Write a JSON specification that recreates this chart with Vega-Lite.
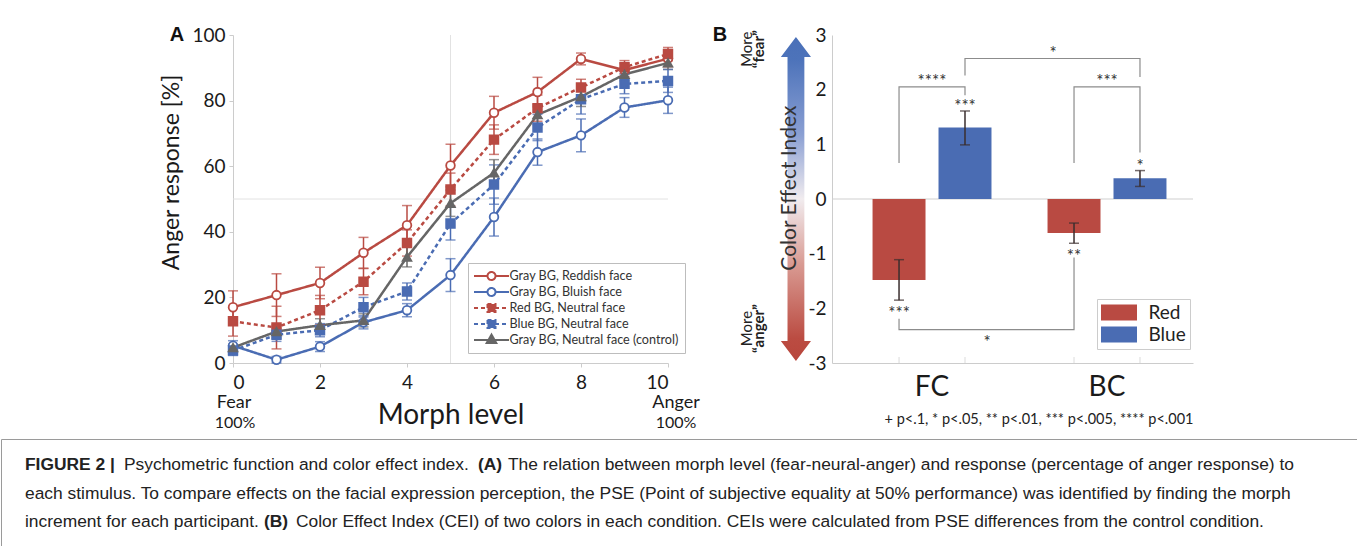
{
  "$schema": "https://vega.github.io/schema/vega-lite/v6.json",
  "background": "white",
  "padding": {"left": 0, "top": 25, "right": 0, "bottom": 0},
  "bounds": "full",
  "spacing": 6,
  "datasets": {
    "psy": [
      {"series": "Gray BG, Reddish face", "morph": 0, "value": 17.0, "lo": 12.0, "hi": 22.0},
      {"series": "Gray BG, Reddish face", "morph": 1, "value": 20.7, "lo": 14.2, "hi": 27.2},
      {"series": "Gray BG, Reddish face", "morph": 2, "value": 24.4, "lo": 19.6, "hi": 29.2},
      {"series": "Gray BG, Reddish face", "morph": 3, "value": 33.6, "lo": 28.9, "hi": 38.3},
      {"series": "Gray BG, Reddish face", "morph": 4, "value": 42.0, "lo": 36.0, "hi": 48.0},
      {"series": "Gray BG, Reddish face", "morph": 5, "value": 60.2, "lo": 53.7, "hi": 66.7},
      {"series": "Gray BG, Reddish face", "morph": 6, "value": 76.3, "lo": 71.3, "hi": 81.3},
      {"series": "Gray BG, Reddish face", "morph": 7, "value": 82.6, "lo": 78.1, "hi": 87.1},
      {"series": "Gray BG, Reddish face", "morph": 8, "value": 92.7, "lo": 90.9, "hi": 94.5},
      {"series": "Gray BG, Reddish face", "morph": 9, "value": 89.3, "lo": 87.3, "hi": 91.3},
      {"series": "Gray BG, Reddish face", "morph": 10, "value": 92.8, "lo": 90.3, "hi": 95.3},
      {"series": "Gray BG, Bluish face", "morph": 0, "value": 5.3, "lo": 3.8, "hi": 6.8},
      {"series": "Gray BG, Bluish face", "morph": 1, "value": 1.0, "lo": 0.0, "hi": 2.0},
      {"series": "Gray BG, Bluish face", "morph": 2, "value": 5.0, "lo": 3.5, "hi": 6.5},
      {"series": "Gray BG, Bluish face", "morph": 3, "value": 12.4, "lo": 10.4, "hi": 14.4},
      {"series": "Gray BG, Bluish face", "morph": 4, "value": 16.1, "lo": 14.1, "hi": 18.1},
      {"series": "Gray BG, Bluish face", "morph": 5, "value": 26.8, "lo": 21.8, "hi": 31.8},
      {"series": "Gray BG, Bluish face", "morph": 6, "value": 44.5, "lo": 38.7, "hi": 50.3},
      {"series": "Gray BG, Bluish face", "morph": 7, "value": 64.3, "lo": 60.3, "hi": 68.3},
      {"series": "Gray BG, Bluish face", "morph": 8, "value": 69.4, "lo": 64.4, "hi": 74.4},
      {"series": "Gray BG, Bluish face", "morph": 9, "value": 77.9, "lo": 74.9, "hi": 80.9},
      {"series": "Gray BG, Bluish face", "morph": 10, "value": 80.1, "lo": 76.1, "hi": 84.1},
      {"series": "Red BG, Neutral face", "morph": 0, "value": 12.7, "lo": 8.2, "hi": 17.2},
      {"series": "Red BG, Neutral face", "morph": 1, "value": 10.8, "lo": 4.3, "hi": 17.3},
      {"series": "Red BG, Neutral face", "morph": 2, "value": 16.1, "lo": 11.6, "hi": 20.6},
      {"series": "Red BG, Neutral face", "morph": 3, "value": 24.8, "lo": 20.8, "hi": 28.8},
      {"series": "Red BG, Neutral face", "morph": 4, "value": 36.6, "lo": 32.6, "hi": 40.6},
      {"series": "Red BG, Neutral face", "morph": 5, "value": 52.9, "lo": 47.9, "hi": 57.9},
      {"series": "Red BG, Neutral face", "morph": 6, "value": 68.1, "lo": 63.6, "hi": 72.6},
      {"series": "Red BG, Neutral face", "morph": 7, "value": 77.7, "lo": 73.7, "hi": 81.7},
      {"series": "Red BG, Neutral face", "morph": 8, "value": 84.0, "lo": 81.5, "hi": 86.5},
      {"series": "Red BG, Neutral face", "morph": 9, "value": 90.2, "lo": 88.2, "hi": 92.2},
      {"series": "Red BG, Neutral face", "morph": 10, "value": 94.2, "lo": 92.2, "hi": 96.2},
      {"series": "Blue BG, Neutral face", "morph": 0, "value": 3.8, "lo": 2.3, "hi": 5.3},
      {"series": "Blue BG, Neutral face", "morph": 1, "value": 8.6, "lo": 6.6, "hi": 10.6},
      {"series": "Blue BG, Neutral face", "morph": 2, "value": 10.0, "lo": 8.0, "hi": 12.0},
      {"series": "Blue BG, Neutral face", "morph": 3, "value": 17.0, "lo": 14.0, "hi": 20.0},
      {"series": "Blue BG, Neutral face", "morph": 4, "value": 21.8, "lo": 19.2, "hi": 24.4},
      {"series": "Blue BG, Neutral face", "morph": 5, "value": 42.5, "lo": 37.5, "hi": 47.5},
      {"series": "Blue BG, Neutral face", "morph": 6, "value": 54.4, "lo": 48.4, "hi": 60.4},
      {"series": "Blue BG, Neutral face", "morph": 7, "value": 71.8, "lo": 67.8, "hi": 75.8},
      {"series": "Blue BG, Neutral face", "morph": 8, "value": 80.4, "lo": 75.9, "hi": 84.9},
      {"series": "Blue BG, Neutral face", "morph": 9, "value": 85.1, "lo": 82.1, "hi": 88.1},
      {"series": "Blue BG, Neutral face", "morph": 10, "value": 86.0, "lo": 82.5, "hi": 89.5},
      {"series": "Gray BG, Neutral face (control)", "morph": 0, "value": 4.7, "lo": 3.7, "hi": 5.7},
      {"series": "Gray BG, Neutral face (control)", "morph": 1, "value": 9.6, "lo": 7.6, "hi": 11.6},
      {"series": "Gray BG, Neutral face (control)", "morph": 2, "value": 11.5, "lo": 9.5, "hi": 13.5},
      {"series": "Gray BG, Neutral face (control)", "morph": 3, "value": 13.0, "lo": 11.0, "hi": 15.0},
      {"series": "Gray BG, Neutral face (control)", "morph": 4, "value": 32.3, "lo": 29.3, "hi": 35.3},
      {"series": "Gray BG, Neutral face (control)", "morph": 5, "value": 48.7, "lo": 44.7, "hi": 52.7},
      {"series": "Gray BG, Neutral face (control)", "morph": 6, "value": 58.0, "lo": 54.0, "hi": 62.0},
      {"series": "Gray BG, Neutral face (control)", "morph": 7, "value": 75.7, "lo": 72.7, "hi": 78.7},
      {"series": "Gray BG, Neutral face (control)", "morph": 8, "value": 81.2, "lo": 78.2, "hi": 84.2},
      {"series": "Gray BG, Neutral face (control)", "morph": 9, "value": 88.0, "lo": 86.0, "hi": 90.0},
      {"series": "Gray BG, Neutral face (control)", "morph": 10, "value": 91.5, "lo": 89.5, "hi": 93.5}
    ],
    "ends": [
      {"morph": 0, "word": "Fear", "pct": "100%"},
      {"morph": 10, "word": "Anger", "pct": "100%"}
    ],
    "cei": [
      {"group": "FC", "color": "Red", "cei": -1.48, "lo": -1.85, "hi": -1.11, "sig": "***"},
      {"group": "FC", "color": "Blue", "cei": 1.31, "lo": 0.99, "hi": 1.61, "sig": "***"},
      {"group": "BC", "color": "Red", "cei": -0.62, "lo": -0.81, "hi": -0.44, "sig": "**"},
      {"group": "BC", "color": "Blue", "cei": 0.38, "lo": 0.23, "hi": 0.52, "sig": "*"}
    ],
    "brackets": [
      {"id": "fc", "k": 1, "group": "FC", "color": "Red", "y": 0.66},
      {"id": "fc", "k": 2, "group": "FC", "color": "Red", "y": 2.05},
      {"id": "fc", "k": 3, "group": "FC", "color": "Blue", "y": 2.05},
      {"id": "fc", "k": 4, "group": "FC", "color": "Blue", "y": 1.9},
      {"id": "bc", "k": 1, "group": "BC", "color": "Red", "y": 0.66},
      {"id": "bc", "k": 2, "group": "BC", "color": "Red", "y": 2.05},
      {"id": "bc", "k": 3, "group": "BC", "color": "Blue", "y": 2.05},
      {"id": "bc", "k": 4, "group": "BC", "color": "Blue", "y": 0.85},
      {"id": "blue", "k": 1, "group": "FC", "color": "Blue", "y": 2.26},
      {"id": "blue", "k": 2, "group": "FC", "color": "Blue", "y": 2.57},
      {"id": "blue", "k": 3, "group": "BC", "color": "Blue", "y": 2.57},
      {"id": "blue", "k": 4, "group": "BC", "color": "Blue", "y": 2.23},
      {"id": "red", "k": 1, "group": "FC", "color": "Red", "y": -2.19},
      {"id": "red", "k": 2, "group": "FC", "color": "Red", "y": -2.39},
      {"id": "red", "k": 3, "group": "BC", "color": "Red", "y": -2.39},
      {"id": "red", "k": 4, "group": "BC", "color": "Red", "y": -1.07}
    ],
    "bracketLabels": [
      {"pos": "center", "text": "****", "group": "FC", "color": "Red", "y": 2.05},
      {"pos": "center", "text": "***", "group": "BC", "color": "Red", "y": 2.05},
      {"pos": "top", "text": "*", "group": "FC", "color": "Blue", "y": 2.57},
      {"pos": "bottom", "text": "*", "group": "FC", "color": "Red", "y": -2.39}
    ],
    "notes": [
      {"group": "BC", "text": "+ p<.1, * p<.05, ** p<.01, *** p<.005, **** p<.001"}
    ],
    "caption": [
      {"line": 1, "seg": "fig", "text": "FIGURE 2 |"},
      {"line": 1, "seg": "n1", "text": "Psychometric function and color effect index."},
      {"line": 1, "seg": "bA", "text": "(A)"},
      {"line": 1, "seg": "n2", "text": "The relation between morph level (fear-neural-anger) and response (percentage of anger response) to"},
      {"line": 2, "seg": "n0", "text": "each stimulus. To compare effects on the facial expression perception, the PSE (Point of subjective equality at 50% performance) was identified by finding the morph"},
      {"line": 3, "seg": "n0", "text": "increment for each participant."},
      {"line": 3, "seg": "bB", "text": "(B)"},
      {"line": 3, "seg": "n3", "text": "Color Effect Index (CEI) of two colors in each condition. CEIs were calculated from PSE differences from the control condition."}
    ]
  },
  "vconcat": [
    {
      "bounds": "flush",
      "spacing": 10,
      "resolve": {"scale": {"x": "independent", "y": "independent", "color": "independent", "fill": "independent", "stroke": "independent", "shape": "independent", "strokeDash": "independent"}},
      "hconcat": [
        {
          "width": 222,
          "height": 328,
          "data": {"values": [{"panel": "A"}]},
          "mark": {"type": "text", "font": "Liberation Sans", "fontSize": 20, "fontWeight": "bold", "baseline": "middle", "align": "center", "color": "#111111"},
          "encoding": {
            "x": {"datum": 0.793, "type": "quantitative", "scale": {"domain": [0, 1]}, "axis": null},
            "y": {"datum": 1, "type": "quantitative", "scale": {"domain": [0, 1]}, "axis": null},
            "text": {"field": "panel"}
          }
        },
        {
          "width": 435,
          "height": 328,
          "data": {"name": "psy"},
          "resolve": {"scale": {"shape": "independent", "fill": "independent", "stroke": "independent", "strokeDash": "independent"}},
          "layer": [
            {
              "transform": [{"filter": "datum.morph == 0 && datum.series == 'Gray BG, Reddish face'"}],
              "mark": {"type": "rule", "color": "#e2e2e2", "strokeWidth": 1},
              "encoding": {"x": {"datum": 5, "type": "quantitative", "title": "Morph level"}}
            },
            {
              "transform": [{"filter": "datum.morph == 0 && datum.series == 'Gray BG, Reddish face'"}],
              "mark": {"type": "rule", "color": "#e2e2e2", "strokeWidth": 1},
              "encoding": {"y": {"datum": 50, "type": "quantitative", "title": "Anger response [%]"}}
            },
            {
              "mark": {"type": "line", "strokeWidth": 2.5},
              "encoding": {
                "x": {"field": "morph", "type": "quantitative", "scale": {"domain": [0, 10], "nice": false}, "title": "Morph level",
                  "axis": {"values": [0, 2, 4, 6, 8, 10], "titleFontSize": 28, "titleY": 52, "titleBaseline": "middle",
                    "labelFontSize": 19, "labelPadding": 6, "tickSize": 4}},
                "y": {"field": "value", "type": "quantitative", "scale": {"domain": [0, 100], "nice": false}, "title": "Anger response [%]",
                  "axis": {"values": [0, 20, 40, 60, 80, 100], "titleFontSize": 23, "titleX": -62, "titleY": 137,
                    "titleAngle": 270, "titleBaseline": "middle", "titleAlign": "center", "labelFontSize": 19, "labelPadding": 4, "tickSize": 4}},
                "stroke": {"field": "series", "type": "nominal",
                  "scale": {"domain": ["Gray BG, Reddish face", "Gray BG, Bluish face", "Red BG, Neutral face", "Blue BG, Neutral face", "Gray BG, Neutral face (control)"],
                    "range": ["#b94a42", "#4a6cb3", "#b94a42", "#4a6cb3", "#666666"]}, "legend": null},
                "strokeDash": {"field": "series", "type": "nominal",
                  "scale": {"domain": ["Gray BG, Reddish face", "Gray BG, Bluish face", "Red BG, Neutral face", "Blue BG, Neutral face", "Gray BG, Neutral face (control)"],
                    "range": [[1, 0], [1, 0], [4, 3], [4, 3], [1, 0]]}, "legend": null}
              }
            },
            {
              "mark": {"type": "errorbar", "ticks": {"size": 10}, "thickness": 1.5},
              "encoding": {
                "x": {"field": "morph", "type": "quantitative", "title": "Morph level"},
                "y": {"field": "lo", "type": "quantitative", "title": "Anger response [%]"},
                "y2": {"field": "hi"},
                "color": {"field": "series", "type": "nominal",
                  "scale": {"domain": ["Gray BG, Reddish face", "Gray BG, Bluish face", "Red BG, Neutral face", "Blue BG, Neutral face", "Gray BG, Neutral face (control)"],
                    "range": ["#b94a42", "#4a6cb3", "#b94a42", "#4a6cb3", "#666666"]}, "legend": null}
              }
            },
            {
              "mark": {"type": "point", "filled": false, "opacity": 1, "strokeWidth": 1.8, "size": 75},
              "encoding": {
                "x": {"field": "morph", "type": "quantitative", "title": "Morph level"},
                "y": {"field": "value", "type": "quantitative", "title": "Anger response [%]"},
                "color": {"field": "series", "type": "nominal", "legend": null},
                "shape": {"field": "series", "type": "nominal",
                  "scale": {"domain": ["Gray BG, Reddish face", "Gray BG, Bluish face", "Red BG, Neutral face", "Blue BG, Neutral face", "Gray BG, Neutral face (control)"],
                    "range": ["circle", "circle", "square", "square", "triangle-up"]}, "legend": null},
                "fill": {"field": "series", "type": "nominal",
                  "scale": {"domain": ["Gray BG, Reddish face", "Gray BG, Bluish face", "Red BG, Neutral face", "Blue BG, Neutral face", "Gray BG, Neutral face (control)"],
                    "range": ["#ffffff", "#ffffff", "#b94a42", "#4a6cb3", "#666666"]}, "legend": null}
              }
            },
            {
              "data": {"name": "ends"},
              "transform": [{"filter": "datum.morph == 0"}],
              "mark": {"type": "text", "fontSize": 18, "color": "#1a1a1a", "baseline": "middle", "align": "center", "dx": 1},
              "encoding": {
                "x": {"field": "morph", "type": "quantitative", "title": "Morph level"},
                "y": {"datum": -12.2, "type": "quantitative", "title": "Anger response [%]"},
                "text": {"field": "word"}
              }
            },
            {
              "data": {"name": "ends"},
              "transform": [{"filter": "datum.morph == 10"}],
              "mark": {"type": "text", "fontSize": 18, "color": "#1a1a1a", "baseline": "middle", "align": "center", "dx": 8},
              "encoding": {
                "x": {"field": "morph", "type": "quantitative", "title": "Morph level"},
                "y": {"datum": -12.2, "type": "quantitative", "title": "Anger response [%]"},
                "text": {"field": "word"}
              }
            },
            {
              "data": {"name": "ends"},
              "transform": [{"filter": "datum.morph == 0"}],
              "mark": {"type": "text", "fontSize": 16, "color": "#1a1a1a", "baseline": "middle", "align": "center", "dx": 2},
              "encoding": {
                "x": {"field": "morph", "type": "quantitative", "title": "Morph level"},
                "y": {"datum": -18.4, "type": "quantitative", "title": "Anger response [%]"},
                "text": {"field": "pct"}
              }
            },
            {
              "data": {"name": "ends"},
              "transform": [{"filter": "datum.morph == 10"}],
              "mark": {"type": "text", "fontSize": 16, "color": "#1a1a1a", "baseline": "middle", "align": "center", "dx": 8},
              "encoding": {
                "x": {"field": "morph", "type": "quantitative", "title": "Morph level"},
                "y": {"datum": -18.4, "type": "quantitative", "title": "Anger response [%]"},
                "text": {"field": "pct"}
              }
            },
            {
              "transform": [{"filter": "false"}],
              "mark": {"type": "point", "filled": true, "opacity": 1, "strokeWidth": 2, "size": 144},
              "encoding": {
                "shape": {"field": "series", "type": "nominal",
                  "scale": {"domain": ["Gray BG, Reddish face", "Gray BG, Bluish face", "Red BG, Neutral face", "Blue BG, Neutral face", "Gray BG, Neutral face (control)"],
                    "range": [
                      "M-2.917,0L-0.667,0M0.667,0L2.917,0M0.667,0A0.667,0.667,0,1,1,-0.667,0A0.667,0.667,0,1,1,0.667,0Z",
                      "M-2.917,0L-0.667,0M0.667,0L2.917,0M0.667,0A0.667,0.667,0,1,1,-0.667,0A0.667,0.667,0,1,1,0.667,0Z",
                      "M-2.917,0L2.917,0M-0.667,-0.667L0.667,-0.667L0.667,0.667L-0.667,0.667Z",
                      "M-2.917,0L2.917,0M-0.667,-0.667L0.667,-0.667L0.667,0.667L-0.667,0.667Z",
                      "M-2.917,0L2.917,0M0,-0.9L0.8,0.5L-0.8,0.5Z"]},
                  "legend": {"title": null, "orient": "none", "legendX": 235, "legendY": 228, "labelFontSize": 12.6, "labelColor": "#333333", "labelLimit": 400,
                    "symbolSize": 144, "symbolStrokeWidth": 2, "symbolOffset": 10.5, "labelOffset": 11, "rowPadding": -3,
                    "strokeColor": "#bdbdbd", "fillColor": "#ffffff", "padding": 6}},
                "fill": {"field": "series", "type": "nominal",
                  "scale": {"domain": ["Gray BG, Reddish face", "Gray BG, Bluish face", "Red BG, Neutral face", "Blue BG, Neutral face", "Gray BG, Neutral face (control)"],
                    "range": ["#ffffff", "#ffffff", "#b94a42", "#4a6cb3", "#666666"]}},
                "stroke": {"field": "series", "type": "nominal",
                  "scale": {"domain": ["Gray BG, Reddish face", "Gray BG, Bluish face", "Red BG, Neutral face", "Blue BG, Neutral face", "Gray BG, Neutral face (control)"],
                    "range": ["#b94a42", "#4a6cb3", "#b94a42", "#4a6cb3", "#666666"]}},
                "strokeDash": {"field": "series", "type": "nominal",
                  "scale": {"domain": ["Gray BG, Reddish face", "Gray BG, Bluish face", "Red BG, Neutral face", "Blue BG, Neutral face", "Gray BG, Neutral face (control)"],
                    "range": [[1, 0], [1, 0], [4, 3], [4, 3], [1, 0]]}}
              }
            }
          ]
        },
        {
          "width": 144,
          "height": 328,
          "data": {"values": [{"label": "Color Effect Index", "more": "More", "fear": "“fear”", "anger": "“anger”", "panel": "B"}]},
          "encoding": {
            "x": {"type": "quantitative", "scale": {"domain": [0, 1]}, "axis": null},
            "y": {"type": "quantitative", "scale": {"domain": [-3, 3]}, "axis": null}
          },
          "layer": [
            {
              "mark": {"type": "point", "shape": "M0,-1L0.093,-0.877L0.052,-0.877L0.052,0.877L0.093,0.877L0,1L-0.093,0.877L-0.052,0.877L-0.052,-0.877L-0.093,-0.877Z",
                "size": 104976, "filled": true, "opacity": 1, "strokeWidth": 0,
                "fill": {"gradient": "linear", "x1": 0, "y1": 0, "x2": 0, "y2": 1, "stops": [
                  {"offset": 0, "color": "#4a70b8"}, {"offset": 0.07, "color": "#4d73ba"}, {"offset": 0.3, "color": "#8a9fd3"},
                  {"offset": 0.5, "color": "#f1ecef"}, {"offset": 0.7, "color": "#d99b93"}, {"offset": 0.93, "color": "#bb4c42"}, {"offset": 1, "color": "#b8463c"}]}},
              "encoding": {"x": {"datum": 0.819, "type": "quantitative"}, "y": {"datum": 0, "type": "quantitative"}}
            },
            {
              "mark": {"type": "text", "angle": 270, "fontSize": 21, "color": "#333333", "baseline": "middle", "align": "center"},
              "encoding": {"x": {"datum": 0.778, "type": "quantitative"}, "y": {"datum": 0.2, "type": "quantitative"}, "text": {"field": "label"}}
            },
            {
              "mark": {"type": "text", "angle": 270, "fontSize": 15, "color": "#222222", "baseline": "middle", "align": "center"},
              "encoding": {"x": {"datum": 0.479, "type": "quantitative"}, "y": {"datum": 2.74, "type": "quantitative"}, "text": {"field": "more"}}
            },
            {
              "mark": {"type": "text", "angle": 270, "fontSize": 15, "fontWeight": "bold", "color": "#222222", "baseline": "middle", "align": "center"},
              "encoding": {"x": {"datum": 0.562, "type": "quantitative"}, "y": {"datum": 2.74, "type": "quantitative"}, "text": {"field": "fear"}}
            },
            {
              "mark": {"type": "text", "angle": 270, "fontSize": 15, "color": "#222222", "baseline": "middle", "align": "center"},
              "encoding": {"x": {"datum": 0.479, "type": "quantitative"}, "y": {"datum": -2.37, "type": "quantitative"}, "text": {"field": "more"}}
            },
            {
              "mark": {"type": "text", "angle": 270, "fontSize": 15, "fontWeight": "bold", "color": "#222222", "baseline": "middle", "align": "center"},
              "encoding": {"x": {"datum": 0.562, "type": "quantitative"}, "y": {"datum": -2.37, "type": "quantitative"}, "text": {"field": "anger"}}
            },
            {
              "mark": {"type": "text", "font": "Liberation Sans", "fontSize": 20, "fontWeight": "bold", "color": "#111111", "baseline": "middle", "align": "center"},
              "encoding": {"x": {"datum": 0.292, "type": "quantitative"}, "y": {"datum": 3, "type": "quantitative"}, "text": {"field": "panel"}}
            }
          ]
        },
        {
          "width": 361,
          "height": 328,
          "data": {"name": "cei"},
          "layer": [
            {
              "transform": [{"filter": "datum.group == 'FC' && datum.color == 'Red'"}],
              "mark": {"type": "rule", "color": "#cfcfcf", "strokeWidth": 1},
              "encoding": {"y": {"datum": 0, "type": "quantitative", "title": null}}
            },
            {
              "mark": {"type": "bar"},
              "encoding": {
                "x": {"field": "group", "type": "nominal", "sort": ["FC", "BC"], "title": null,
                  "scale": {"domain": ["FC", "BC"], "paddingInner": 0.26, "paddingOuter": 0.1615, "align": 0.624},
                  "axis": {"labelAngle": 0, "labelFontSize": 28, "labelPadding": 10, "ticks": false, "domainColor": "#cccccc"}},
                "xOffset": {"field": "color", "type": "nominal", "sort": ["Red", "Blue"],
                  "scale": {"domain": ["Red", "Blue"], "paddingInner": 0.197, "paddingOuter": 0.08}},
                "y": {"field": "cei", "type": "quantitative", "scale": {"domain": [-3, 3], "nice": false}, "title": null,
                  "axis": {"values": [-3, -2, -1, 0, 1, 2, 3], "labelFontSize": 19, "ticks": false, "labelPadding": 6, "domainColor": "#cccccc",
                    "labelExpr": "datum.value < 0 ? '-' + abs(datum.value) : '' + datum.value"}},
                "fill": {"field": "color", "type": "nominal",
                  "scale": {"domain": ["Red", "Blue"], "range": ["#b94a42", "#4a6cb3"]},
                  "legend": {"title": null, "orient": "none", "legendX": 265, "legendY": 264,
                    "symbolType": "M-1.895,-0.842L1.895,-0.842L1.895,0.842L-1.895,0.842Z", "symbolSize": 361, "symbolStrokeWidth": 0, "symbolOffset": 8.5,
                    "labelFontSize": 19, "labelColor": "#222222", "strokeColor": "#cccccc", "fillColor": "#ffffff", "padding": 4, "rowPadding": 2, "labelOffset": 20}}
              }
            },
            {
              "mark": {"type": "tick", "orient": "vertical", "size": 6, "thickness": 1, "color": "#cccccc", "yOffset": -3},
              "encoding": {
                "x": {"field": "group", "type": "nominal", "sort": ["FC", "BC"], "title": null},
                "xOffset": {"field": "color", "type": "nominal", "sort": ["Red", "Blue"]},
                "y": {"datum": -3, "type": "quantitative", "title": null}
              }
            },
            {
              "mark": {"type": "rule", "color": "#3a2e2e", "strokeWidth": 1.5},
              "encoding": {
                "x": {"field": "group", "type": "nominal", "sort": ["FC", "BC"], "title": null},
                "xOffset": {"field": "color", "type": "nominal", "sort": ["Red", "Blue"]},
                "y": {"field": "lo", "type": "quantitative", "title": null},
                "y2": {"field": "hi"}
              }
            },
            {
              "mark": {"type": "tick", "orient": "horizontal", "size": 10, "thickness": 1.5, "color": "#3a2e2e"},
              "encoding": {
                "x": {"field": "group", "type": "nominal", "sort": ["FC", "BC"], "title": null},
                "xOffset": {"field": "color", "type": "nominal", "sort": ["Red", "Blue"]},
                "y": {"field": "lo", "type": "quantitative", "title": null}
              }
            },
            {
              "mark": {"type": "tick", "orient": "horizontal", "size": 10, "thickness": 1.5, "color": "#3a2e2e"},
              "encoding": {
                "x": {"field": "group", "type": "nominal", "sort": ["FC", "BC"], "title": null},
                "xOffset": {"field": "color", "type": "nominal", "sort": ["Red", "Blue"]},
                "y": {"field": "hi", "type": "quantitative", "title": null}
              }
            },
            {
              "transform": [{"filter": "datum.cei > 0"}],
              "mark": {"type": "text", "fontSize": 17, "color": "#333333", "baseline": "alphabetic", "dy": 1},
              "encoding": {
                "x": {"field": "group", "type": "nominal", "sort": ["FC", "BC"], "title": null},
                "xOffset": {"field": "color", "type": "nominal", "sort": ["Red", "Blue"]},
                "y": {"field": "hi", "type": "quantitative", "title": null},
                "text": {"field": "sig"}
              }
            },
            {
              "transform": [{"filter": "datum.cei < 0"}],
              "mark": {"type": "text", "fontSize": 17, "color": "#333333", "baseline": "alphabetic", "dy": 18.5},
              "encoding": {
                "x": {"field": "group", "type": "nominal", "sort": ["FC", "BC"], "title": null},
                "xOffset": {"field": "color", "type": "nominal", "sort": ["Red", "Blue"]},
                "y": {"field": "lo", "type": "quantitative", "title": null},
                "text": {"field": "sig"}
              }
            },
            {
              "data": {"name": "brackets"},
              "mark": {"type": "line", "color": "#8c8c8c", "strokeWidth": 1.2},
              "encoding": {
                "x": {"field": "group", "type": "nominal", "sort": ["FC", "BC"], "title": null},
                "xOffset": {"field": "color", "type": "nominal", "sort": ["Red", "Blue"]},
                "y": {"field": "y", "type": "quantitative", "title": null},
                "detail": {"field": "id"},
                "order": {"field": "k"}
              }
            },
            {
              "data": {"name": "bracketLabels"},
              "transform": [{"filter": "datum.pos == 'center'"}],
              "mark": {"type": "text", "fontSize": 17, "color": "#333333", "baseline": "alphabetic", "dy": 0},
              "encoding": {
                "x": {"field": "group", "type": "nominal", "sort": ["FC", "BC"], "title": null},
                "y": {"field": "y", "type": "quantitative", "title": null},
                "text": {"field": "text"}
              }
            },
            {
              "data": {"name": "bracketLabels"},
              "transform": [{"filter": "datum.pos == 'top'"}],
              "mark": {"type": "text", "fontSize": 17, "color": "#333333", "baseline": "alphabetic", "dx": 88, "dy": 0},
              "encoding": {
                "x": {"field": "group", "type": "nominal", "sort": ["FC", "BC"], "title": null},
                "xOffset": {"field": "color", "type": "nominal", "sort": ["Red", "Blue"]},
                "y": {"field": "y", "type": "quantitative", "title": null},
                "text": {"field": "text"}
              }
            },
            {
              "data": {"name": "bracketLabels"},
              "transform": [{"filter": "datum.pos == 'bottom'"}],
              "mark": {"type": "text", "fontSize": 17, "color": "#333333", "baseline": "alphabetic", "dx": 88, "dy": 18},
              "encoding": {
                "x": {"field": "group", "type": "nominal", "sort": ["FC", "BC"], "title": null},
                "xOffset": {"field": "color", "type": "nominal", "sort": ["Red", "Blue"]},
                "y": {"field": "y", "type": "quantitative", "title": null},
                "text": {"field": "text"}
              }
            },
            {
              "data": {"name": "notes"},
              "mark": {"type": "text", "fontSize": 14.5, "color": "#222222", "baseline": "middle", "align": "center", "dx": -68},
              "encoding": {
                "x": {"field": "group", "type": "nominal", "sort": ["FC", "BC"], "title": null},
                "y": {"datum": -4.04, "type": "quantitative", "title": null},
                "text": {"field": "text"}
              }
            }
          ]
        }
      ]
    },
    {
      "width": 1357,
      "height": 109,
      "view": {"stroke": "#9a9a9a", "strokeWidth": 1},
      "data": {"name": "caption"},
      "encoding": {
        "x": {"datum": 0, "type": "quantitative", "scale": {"domain": [0, 1]}, "axis": null},
        "y": {"field": "line", "type": "ordinal", "scale": {"type": "point", "padding": 0.88}, "axis": null},
        "text": {"field": "text"}
      },
      "layer": [
        {"transform": [{"filter": "datum.seg == 'fig'"}], "mark": {"type": "text", "font": "Liberation Sans", "fontSize": 17.4, "fontWeight": "bold", "align": "left", "baseline": "middle", "color": "#222222", "dx": 24}},
        {"transform": [{"filter": "datum.seg == 'n1'"}], "mark": {"type": "text", "font": "Liberation Sans", "fontSize": 17.4, "align": "left", "baseline": "middle", "color": "#222222", "dx": 123}},
        {"transform": [{"filter": "datum.seg == 'bA'"}], "mark": {"type": "text", "font": "Liberation Sans", "fontSize": 17.4, "fontWeight": "bold", "align": "left", "baseline": "middle", "color": "#222222", "dx": 477}},
        {"transform": [{"filter": "datum.seg == 'n2'"}], "mark": {"type": "text", "font": "Liberation Sans", "fontSize": 17.4, "align": "left", "baseline": "middle", "color": "#222222", "dx": 507}},
        {"transform": [{"filter": "datum.seg == 'n0'"}], "mark": {"type": "text", "font": "Liberation Sans", "fontSize": 17.4, "align": "left", "baseline": "middle", "color": "#222222", "dx": 24}},
        {"transform": [{"filter": "datum.seg == 'bB'"}], "mark": {"type": "text", "font": "Liberation Sans", "fontSize": 17.4, "fontWeight": "bold", "align": "left", "baseline": "middle", "color": "#222222", "dx": 263}},
        {"transform": [{"filter": "datum.seg == 'n3'"}], "mark": {"type": "text", "font": "Liberation Sans", "fontSize": 17.4, "align": "left", "baseline": "middle", "color": "#222222", "dx": 295}}
      ]
    }
  ],
  "config": {
    "font": "Lato",
    "view": {"stroke": null},
    "axis": {"labelFont": "Lato", "titleFont": "Lato", "labelColor": "#1a1a1a", "titleColor": "#1a1a1a", "titleFontWeight": "normal", "domainColor": "#cccccc", "tickColor": "#cccccc", "grid": false},
    "legend": {"labelFont": "Lato"},
    "text": {"font": "Lato"}
  }
}
